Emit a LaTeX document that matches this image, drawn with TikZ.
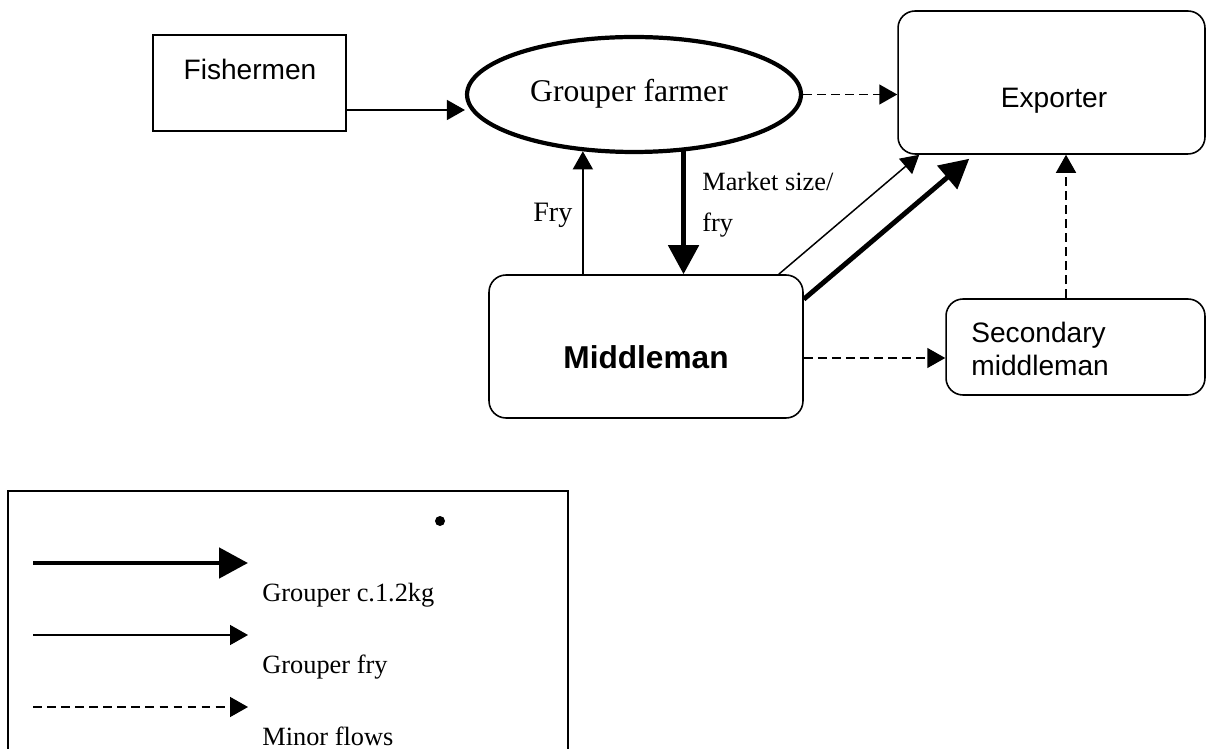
\documentclass[tikz,border=0pt]{standalone}
\usepackage{fontspec}
\setmainfont{Liberation Serif}
\setsansfont{Liberation Sans}
\usetikzlibrary{arrows.meta,shapes.geometric}

\tikzset{
  plainbox/.style={draw,line width=0.9pt,inner sep=0pt},
  roundbox/.style={draw,line width=0.9pt,rounded corners=0.34cm,inner sep=0pt},
  boxtext/.style={font=\sffamily\fontsize{16}{19}\selectfont,inner sep=0pt},
  flowtext/.style={font=\fontsize{15}{23}\selectfont,inner sep=0pt,align=left},
  fryflow/.style={line width=0.85pt,-{Triangle[length=0.36cm,width=0.4cm]}},
  bigflow/.style={line width=2.8pt,-{Triangle[length=0.58cm,width=0.6cm]}},
  minorflow/.style={line width=0.85pt,dash pattern=on 5pt off 3pt,-{Triangle[length=0.36cm,width=0.4cm]}}
}

\begin{document}
\begin{tikzpicture}[x=0.02cm,y=-0.02cm]
    \useasboundingbox (0,0) rectangle (1206,749);

    % actors
    \node[plainbox,minimum width=3.86cm,minimum height=1.92cm] (fish) at (249.5,83) {};
    \node[boxtext,anchor=base] (fishtext) at (250,80) {Fishermen};
    \node[draw,ellipse,line width=2.4pt,minimum width=6.68cm,minimum height=2.3cm,inner sep=0pt] (farmer) at (634,94.5) {};
    \node[font=\fontsize{18}{21}\selectfont,inner sep=0pt,anchor=base] (farmertext) at (629,102) {Grouper farmer};
    \node[roundbox,minimum width=6.14cm,minimum height=2.86cm] (exporter) at (1051.5,82.5) {};
    \node[boxtext,anchor=base] (exptext) at (1054,108) {Exporter};
    \node[roundbox,minimum width=6.28cm,minimum height=2.86cm] (mid) at (646,346.5) {};
    \node[boxtext,font=\sffamily\bfseries\fontsize{18}{21}\selectfont,anchor=base] (midtext) at (646,369) {Middleman};
    \node[roundbox,minimum width=5.18cm,minimum height=1.92cm] (sec) at (1075.5,347) {};
    \node[boxtext,align=left,font=\sffamily\fontsize{16}{18.8}\selectfont,anchor=west] (sectext) at (971,349) {Secondary\\middleman};

    % flows
    \draw[fryflow] ([yshift=-0.54cm]fish.east) -- ([yshift=-0.54cm]fish.east -| farmer.west);
    \draw[minorflow] (farmer.east) -- (farmer.east -| exporter.west);
    \draw[fryflow] (farmer.228 |- mid.north) -- (farmer.228);
    \draw[bigflow] (farmer.311) -- (farmer.311 |- mid.north);
    \draw[fryflow] ([xshift=-0.5cm]mid.north east) -- ([xshift=0.44cm]exporter.south west);
    \draw[bigflow] ([yshift=-0.5cm]mid.north east) -- ([xshift=1.44cm,yshift=-0.08cm]exporter.south west);
    \draw[minorflow] ([yshift=-0.23cm]mid.east) -- ([yshift=-0.23cm]mid.east -| sec.west);
    \draw[minorflow] ([xshift=-0.19cm]sec.north) -- ([xshift=-0.19cm]sec.north |- exporter.south);

    \node[flowtext,font=\fontsize{16}{20}\selectfont,anchor=base west] (frylabel) at (533,222) {Fry};
    \node[flowtext,anchor=north west] (marketlabel) at (702,172) {Market size/\\fry};

    % legend
    \draw[line width=0.9pt] (8,491) rectangle (568,760);
    \fill (440,521) circle (0.1cm);
    \foreach \sty/\yy/\txt [count=\i] in {bigflow/563/{Grouper c.1.2kg},fryflow/635/{Grouper fry},minorflow/707/{Minor flows}} {
        \coordinate (key\i) at (33,\yy);
        \coordinate (keyend\i) at (248,\yy);
        \draw[\sty] (key\i) -- (keyend\i);
        \node[flowtext,anchor=base west] (keytext\i) at (262,\yy+38) {\txt};
    }
\end{tikzpicture}
\end{document}
